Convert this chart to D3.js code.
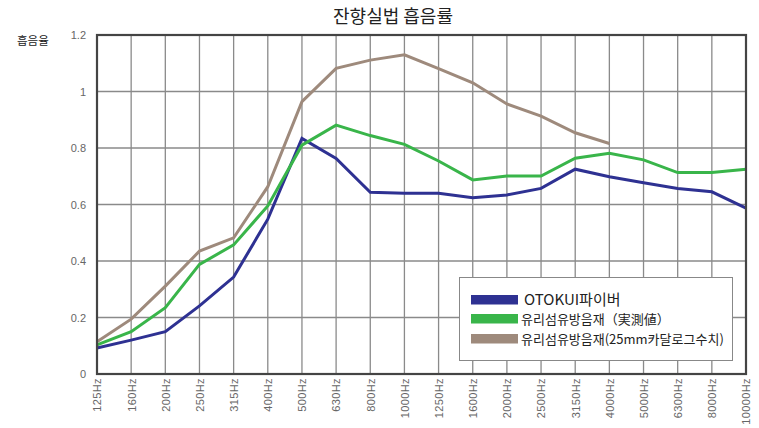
<!DOCTYPE html>
<html>
<head>
<meta charset="utf-8">
<script src="https://cdn.jsdelivr.net/npm/d3@7"></script>
<style>
  body { margin: 0; background: #fff; }
  svg { display: block; font-family: "Noto Sans CJK KR", "Noto Sans", sans-serif; }
</style>
</head>
<body>
<svg id="chart" width="759" height="428"></svg>
<script>
// frequencies along the bottom
var freqs = ['125Hz', '160Hz', '200Hz', '250Hz', '315Hz', '400Hz', '500Hz', '630Hz', '800Hz', '1000Hz',
             '1250Hz', '1600Hz', '2000Hz', '2500Hz', '3150Hz', '4000Hz', '5000Hz', '6300Hz', '8000Hz', '10000Hz'];

// absorption values
var otokui = [0.092, 0.12, 0.15, 0.241, 0.343, 0.548, 0.834, 0.763, 0.643, 0.64,
              0.64, 0.624, 0.634, 0.657, 0.725, 0.698, 0.677, 0.657, 0.645, 0.587];
var glassMeasured = [0.103, 0.15, 0.235, 0.388, 0.457, 0.595, 0.81, 0.881, 0.844, 0.813,
                     0.754, 0.687, 0.701, 0.701, 0.764, 0.781, 0.758, 0.713, 0.713, 0.725];
var glassCatalog = [0.114, 0.194, 0.311, 0.435, 0.482, 0.663, 0.964, 1.082, 1.111, 1.13,
                    1.081, 1.031, 0.956, 0.913, 0.854, 0.816];

var yTicks = [0, 0.2, 0.4, 0.6, 0.8, 1, 1.2];

var seriesNames = ['OTOKUI파이버', '유리섬유방음재（実測値）', '유리섬유방음재(25mm카달로그수치)'];
var seriesColors = ['#2e3192', '#39b54a', '#9e8a7c'];

var svg = d3.select('#chart');
// plot box (don't call these top/left: window.top is taken)
var pL = 97, pR = 746, pT = 35, pB = 374;

var x = d3.scalePoint().domain(freqs).range([pL, pR]);
var y = d3.scaleLinear().domain([0, 1.2]).range([pB, pT]);

// title
svg.append('text')
    .attr('x', 393).attr('y', 23)
    .attr('text-anchor', 'middle')
    .style('font-size', '18px')
    .attr('fill', '#222')
    .text('잔향실법 흡음률');

svg.append('text')
    .attr('x', 17).attr('y', 45)
    .style('font-size', '11.5px')
    .attr('fill', '#222')
    .text('흡음율');

// grid
var grid = svg.append('g');
grid.selectAll('.vline').data(freqs).enter().append('line')
    .attr('x1', function(d) { return x(d); })
    .attr('x2', function(d) { return x(d); })
    .attr('y1', pT).attr('y2', pB)
    .attr('stroke', '#8a8a8a').attr('stroke-width', 1.3);
grid.selectAll('.hline').data(yTicks).enter().append('line')
    .attr('x1', pL).attr('x2', pR)
    .attr('y1', function(d) { return y(d); })
    .attr('y2', function(d) { return y(d); })
    .attr('stroke', '#8a8a8a').attr('stroke-width', 1.3);

// y axis labels
var yAxis = svg.append('g')
    .attr('transform', 'translate(' + (pL - 8) + ',0)')
    .call(d3.axisLeft(y).tickValues(yTicks).tickSize(0).tickFormat(d3.format('')));
yAxis.select('.domain').remove();
yAxis.selectAll('text')
    .style('font-family', '"Liberation Sans", Arial, sans-serif')
    .style('font-size', '11px')
    .attr('fill', '#666');

// x axis labels, rotated
var xAxis = svg.append('g')
    .attr('transform', 'translate(0,' + (pB + 4) + ')')
    .call(d3.axisBottom(x).tickSize(0));
xAxis.select('.domain').remove();
xAxis.selectAll('text')
    .style('font-family', '"Liberation Sans", Arial, sans-serif')
    .style('font-size', '11px')
    .style('letter-spacing', '0.4px')
    .attr('fill', '#666')
    .attr('text-anchor', 'end')
    .attr('transform', 'rotate(-90)')
    .attr('x', 0).attr('y', 0)
    .attr('dx', 0).attr('dy', '0.35em');

// lines
var line = d3.line()
    .x(function(d, i) { return x(freqs[i]); })
    .y(function(d) { return y(d); });

[otokui, glassMeasured, glassCatalog].forEach(function(data, i) {
    svg.append('path')
        .attr('d', line(data))
        .attr('fill', 'none')
        .attr('stroke', seriesColors[i])
        .attr('stroke-width', 3)
        .attr('stroke-linejoin', 'miter');
});

// plot border
svg.append('rect')
    .attr('x', pL).attr('y', pT)
    .attr('width', pR - pL).attr('height', pB - pT)
    .attr('fill', 'none')
    .attr('stroke', '#444').attr('stroke-width', 2.2);

// legend
var legend = svg.append('g');
legend.append('rect')
    .attr('x', 459.5).attr('y', 277.5)
    .attr('width', 273).attr('height', 83)
    .attr('fill', '#fff')
    .attr('stroke', '#888').attr('stroke-width', 1);

var legendRows = [300, 319, 339];
seriesNames.forEach(function(name, i) {
    legend.append('rect')
        .attr('x', 471).attr('y', legendRows[i] - 5)
        .attr('width', 47).attr('height', 9.5)
        .attr('fill', seriesColors[i]);
    legend.append('text')
        .attr('x', i == 0 ? 524 : 521)
        .attr('y', legendRows[i])
        .attr('dy', '0.35em')
        .style('font-size', i == 0 ? '15px' : '13px')
        .attr('fill', '#222')
        .text(name);
});
</script>
</body>
</html>
